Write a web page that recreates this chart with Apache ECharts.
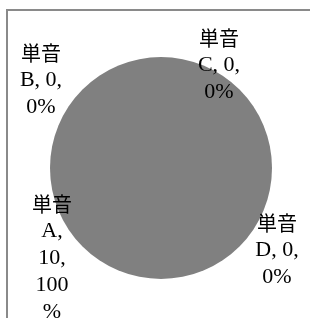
<!DOCTYPE html>
<html>
<head>
<meta charset="utf-8">
<script src="https://cdn.jsdelivr.net/npm/echarts@6/dist/echarts.min.js"></script>
<style>
  html, body { margin: 0; padding: 0; background: #fff; }
  #chart { width: 310px; height: 318px; }
</style>
</head>
<body>
<div id="chart"></div>
<script>
// data
var prefix = '単音';
var categories = ['A', 'B', 'C', 'D'];
var values = [10, 0, 0, 0];

// label layout (centre of each label block) and how many chars fit per line
var labelPos = [[52, 258], [41, 80], [219, 65], [277, 250]];
var labelWrap = [3, 6, 6, 6];

function wrapLabel(idx, name, value, percent) {
  var max = labelWrap[idx];
  var tokens = [name + ',', value + ',', percent + '%'];
  var lines = ['{c|' + prefix + '}'];
  var line = '';
  tokens.forEach(function (t) {
    var next = line ? line + ' ' + t : t;
    if (next.length <= max) {
      line = next;
      return;
    }
    if (line) lines.push('{t|' + line + '}');
    while (t.length > max) {
      lines.push('{t|' + t.slice(0, max) + '}');
      t = t.slice(max);
    }
    line = t;
  });
  if (line) lines.push('{t|' + line + '}');
  return lines.join('\n');
}

var chart = echarts.init(document.getElementById('chart'));
chart.setOption({
  animation: false,
  graphic: [{
    type: 'rect',
    shape: { x: 7, y: 10, width: 400, height: 400 },
    style: { fill: 'none', stroke: '#8a8a8a', lineWidth: 2 },
    silent: true
  }],
  series: [{
    type: 'pie',
    center: [161, 168],
    radius: 111,
    startAngle: 90,
    stillShowZeroSum: true,
    avoidLabelOverlap: false,
    percentPrecision: 0,
    itemStyle: { color: '#808080', borderWidth: 0 },
    emphasis: { disabled: true },
    labelLine: { show: false },
    label: {
      show: true,
      color: '#000',
      align: 'center',
      formatter: function (p) {
        return wrapLabel(p.dataIndex, p.name, p.value, p.percent);
      },
      rich: {
        c: {
          fontSize: 20, lineHeight: 27, color: '#000',
          fontFamily: '"Noto Sans CJK JP", sans-serif'
        },
        t: {
          fontSize: 22, lineHeight: 27, color: '#000',
          fontFamily: '"Liberation Serif", serif'
        }
      }
    },
    labelLayout: function (p) {
      var pos = labelPos[p.dataIndex];
      return {
        x: pos[0], y: pos[1], align: 'center', verticalAlign: 'middle',
        hideOverlap: false, moveOverlap: false
      };
    },
    data: categories.map(function (c, i) {
      return { name: c, value: values[i] };
    })
  }]
});
</script>
</body>
</html>
